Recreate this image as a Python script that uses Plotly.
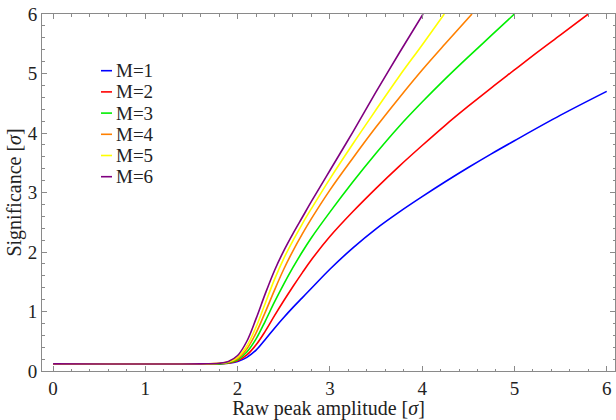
import plotly.graph_objects as go

# ---- data ----
labels = ["M=1", "M=2", "M=3", "M=4", "M=5", "M=6"]
colors = ["#0000ff", "#ff0000", "#00ee00", "#ff8000", "#ffff00", "#800080"]

x_m1 = [0, 1.6, 1.8, 1.9, 2.0, 2.1, 2.2, 2.3, 2.4, 2.5, 2.6, 2.7, 2.8, 3.0, 3.25, 3.5, 3.75, 4.0, 4.25, 4.5, 4.75, 5.0, 5.5, 6.0]
y_m1 = [0.12, 0.12, 0.12, 0.13, 0.16, 0.23, 0.35, 0.53, 0.72, 0.90, 1.07, 1.23, 1.39, 1.71, 2.07, 2.39, 2.67, 2.93, 3.18, 3.42, 3.65, 3.87, 4.30, 4.70]

x_m2 = [0, 1.6, 1.8, 1.9, 2.0, 2.1, 2.2, 2.3, 2.4, 2.5, 2.6, 2.7, 2.8, 3.0, 3.25, 3.5, 3.75, 4.0, 4.25, 4.5, 4.75, 5.0, 5.25, 5.5, 5.8]
y_m2 = [0.12, 0.12, 0.12, 0.13, 0.17, 0.27, 0.44, 0.67, 0.93, 1.18, 1.42, 1.65, 1.87, 2.26, 2.68, 3.07, 3.44, 3.79, 4.13, 4.45, 4.76, 5.06, 5.36, 5.65, 6.0]

x_m3 = [0, 1.6, 1.8, 1.9, 2.0, 2.1, 2.2, 2.3, 2.4, 2.5, 2.6, 2.7, 2.8, 3.0, 3.25, 3.5, 3.75, 4.0, 4.25, 4.5, 4.75, 5.0]
y_m3 = [0.12, 0.12, 0.12, 0.14, 0.19, 0.32, 0.54, 0.84, 1.16, 1.46, 1.74, 2.00, 2.24, 2.67, 3.18, 3.66, 4.11, 4.52, 4.91, 5.28, 5.64, 6.0]

x_m4 = [0, 1.6, 1.8, 1.9, 2.0, 2.1, 2.2, 2.3, 2.4, 2.5, 2.6, 2.7, 2.8, 3.0, 3.25, 3.5, 3.75, 4.0, 4.25, 4.54]
y_m4 = [0.12, 0.12, 0.13, 0.15, 0.21, 0.37, 0.64, 0.99, 1.36, 1.71, 2.02, 2.30, 2.56, 3.04, 3.58, 4.10, 4.59, 5.06, 5.50, 6.0]

x_m5 = [0, 1.6, 1.8, 1.9, 2.0, 2.1, 2.2, 2.3, 2.4, 2.5, 2.6, 2.7, 2.8, 3.0, 3.25, 3.5, 3.75, 4.0, 4.24]
y_m5 = [0.12, 0.12, 0.13, 0.15, 0.23, 0.42, 0.74, 1.14, 1.54, 1.89, 2.19, 2.47, 2.73, 3.23, 3.82, 4.39, 4.95, 5.48, 6.0]

x_m6 = [0, 1.6, 1.8, 1.9, 2.0, 2.1, 2.2, 2.3, 2.4, 2.5, 2.6, 2.7, 2.8, 3.0, 3.25, 3.5, 3.75, 4.01]
y_m6 = [0.12, 0.12, 0.13, 0.16, 0.26, 0.50, 0.88, 1.30, 1.69, 2.02, 2.31, 2.58, 2.85, 3.37, 4.02, 4.69, 5.34, 6.0]

xs = [x_m1, x_m2, x_m3, x_m4, x_m5, x_m6]
ys = [y_m1, y_m2, y_m3, y_m4, y_m5, y_m6]

x_ticks = [0, 1, 2, 3, 4, 5, 6]
y_ticks = [0, 1, 2, 3, 4, 5, 6]

FONT = "'Liberation Serif', 'Times New Roman', Times, serif"
W, H = 616, 420
ML, MR, MT, MB = 42, 1, 14, 49

fig = go.Figure()
for xv, yv, c, lab in zip(xs, ys, colors, labels):
    fig.add_trace(go.Scatter(x=xv, y=yv, mode="lines", name=lab,
                             line=dict(color=c, width=1.6, shape="spline", smoothing=1.0),
                             showlegend=False))

axis_common = dict(
    showgrid=False, zeroline=False, showline=True, linecolor="#8a8a8a", linewidth=1,
    mirror="ticks", ticks="inside", ticklen=5, tickwidth=1, tickcolor="#8a8a8a",
    tickfont=dict(family=FONT, size=19, color="#222"), automargin=False,
)
fig.update_xaxes(range=[-0.12, 6.09], tickvals=x_ticks, ticktext=[str(t) for t in x_ticks],
                 minor=dict(dtick=0.2, ticks="inside", ticklen=2.5, tickcolor="#8a8a8a", showgrid=False),
                 title=dict(text="Raw peak amplitude [<i>σ</i>]", font=dict(family=FONT, size=20, color="#222"), standoff=3),
                 **axis_common)
fig.update_yaxes(range=[0, 6], tickvals=y_ticks, ticktext=[str(t) for t in y_ticks],
                 minor=dict(dtick=0.2, ticks="inside", ticklen=2.5, tickcolor="#8a8a8a", showgrid=False),
                 title=dict(text="Significance [<i>σ</i>]", font=dict(family=FONT, size=20, color="#222"), standoff=0),
                 **axis_common)

# custom legend (short line samples like the reference)
pw = W - ML - MR
ph = H - MT - MB
def px2paper(px, py):
    return (px - ML) / pw, (H - MB - py) / ph

for i, (lab, c) in enumerate(zip(labels, colors)):
    py = 70.7 + i * 21.2
    x0, y0 = px2paper(101, py)
    x1, _ = px2paper(112, py)
    fig.add_shape(type="line", xref="paper", yref="paper", x0=x0, x1=x1, y0=y0, y1=y0,
                  line=dict(color=c, width=1.6))
    tx, ty = px2paper(114, py)
    fig.add_annotation(xref="paper", yref="paper", x=tx, y=ty, text=lab, showarrow=False,
                       xanchor="left", yanchor="middle", font=dict(family=FONT, size=19, color="#222"))

fig.update_layout(width=W, height=H, margin=dict(l=ML, r=MR, t=MT, b=MB),
                  paper_bgcolor="white", plot_bgcolor="white")
fig.write_html("out.html", config={"displayModeBar": False},
               post_script="document.body.style.margin='0';document.body.style.overflow='hidden';")
